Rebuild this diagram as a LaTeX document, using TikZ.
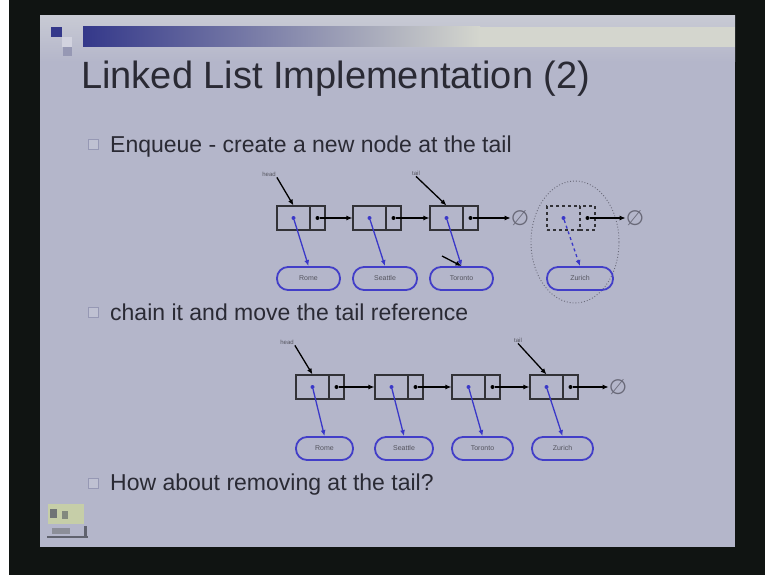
\documentclass[tikz,border=0pt]{standalone}
\usepackage{fontspec}
\setmainfont{Liberation Sans}
\newfontfamily\symfont{DejaVu Sans}
\usetikzlibrary{arrows.meta,shapes.geometric}

\definecolor{frame}{RGB}{16,20,18}
\definecolor{slide}{RGB}{180,182,202}
\definecolor{slidetop}{RGB}{200,202,212}
\definecolor{navy}{RGB}{52,56,138}
\definecolor{bandlight}{RGB}{212,214,206}
\definecolor{txt}{RGB}{42,42,52}
\definecolor{boxc}{RGB}{50,50,55}
\definecolor{refc}{RGB}{58,56,200}
\definecolor{cityc}{RGB}{66,62,200}
\definecolor{smalltxt}{RGB}{85,85,95}
\definecolor{emptyc}{RGB}{105,105,120}
\definecolor{bulletc}{RGB}{150,152,180}
\definecolor{logogreen}{RGB}{198,206,168}
\definecolor{logodark}{RGB}{112,116,118}
\definecolor{logomid}{RGB}{130,136,126}
\definecolor{logogrey}{RGB}{140,142,152}
\definecolor{logoline}{RGB}{96,98,110}

\tikzset{
  elem/.style={draw=boxc, line width=1.1pt, minimum width=33pt, minimum height=24pt, inner sep=0pt},
  nxt/.style={draw=boxc, line width=1.1pt, minimum width=15pt, minimum height=24pt, inner sep=0pt},
  city/.style={draw=cityc, line width=1.8pt, rounded corners=11pt, minimum height=23pt,
    inner sep=0pt, text height=5pt, text depth=1.5pt,
    font=\fontsize{7}{7}\selectfont, text=smalltxt},
  ptr/.style={-{Latex[length=6pt,width=5pt]}, line width=1.3pt, draw=black},
  refptr/.style={-{Latex[length=6pt,width=5pt]}, line width=1.3pt, draw=refc},
  dotk/.style={circle, fill=black, inner sep=0pt, minimum size=4pt},
  dotb/.style={circle, fill=refc, inner sep=0pt, minimum size=4pt},
  lbl/.style={font=\fontsize{6}{6}\selectfont, text=smalltxt, inner sep=1pt},
  nullref/.style={font=\symfont\fontsize{21}{21}\selectfont, text=emptyc, inner sep=0pt},
  bullet/.style={draw=bulletc, fill=slide!85!white, line width=0.8pt, minimum size=10pt, inner sep=0pt},
  btext/.style={anchor=base west, font=\fontsize{23}{23}\selectfont, text=txt, inner sep=0pt},
}

\begin{document}
\begin{tikzpicture}[x=1pt,y=-1pt]
\useasboundingbox (0,0) rectangle (765,575);

% frame and slide
\fill[white] (0,0) rectangle (9,575);
\fill[frame] (9,0) rectangle (765,575);
\fill[slide] (40,16) rectangle (735,547);
\shade[top color=slidetop, bottom color=slide] (40,16) rectangle (735,62);

% header band and corner squares
\shade[left color=navy, right color=bandlight] (83,27) rectangle (480,47);
\fill[bandlight] (480,27) rectangle (735,47);
\fill[navy] (51,27) rectangle (62,37);
\fill[slide!60!white] (62,37) rectangle (72,47);
\fill[bulletc] (63,47) rectangle (72,56);

% title
\node[anchor=base west, inner sep=0pt, text=txt, font=\fontsize{38}{38}\selectfont]
  (title) at (81,89) {Linked List Implementation (2)};

% bullets
\node[bullet] (b1) at (93,144) {};
\node[btext] (t1) at (110,152) {Enqueue - create a new node at the tail};
\node[bullet] (b2) at (93,312) {};
\node[btext] (t2) at (110,320) {chain it and move the tail reference};
\node[bullet] (b3) at (93,483) {};
\node[btext] (t3) at (110,490) {How about removing at the tail?};

% ---------- first list: before linking ----------
\node[elem] (ae1) at (293.5,218) {};
\node[nxt]  (an1) at (317.5,218) {};
\node[elem] (ae2) at (369.5,218) {};
\node[nxt]  (an2) at (393.5,218) {};
\node[elem] (ae3) at (446.5,218) {};
\node[nxt]  (an3) at (470.5,218) {};
\node[nullref] (anull) at (520,218) {∅};

\node[elem, dashed] (ane) at (563.5,218) {};
\node[nxt, dashed]  (ann) at (587.5,218) {};
\node[nullref] (annull) at (635,218) {∅};
\node[ellipse, draw=emptyc, dotted, line width=0.9pt, minimum width=88pt, minimum height=122pt] (grp) at (575,242) {};

\node[city, minimum width=63pt] (ac1) at (308.5,278.5) {Rome};
\node[city, minimum width=64pt] (ac2) at (385,278.5) {Seattle};
\node[city, minimum width=63pt] (ac3) at (461.5,278.5) {Toronto};
\node[city, minimum width=66pt] (ac4) at (580,278.5) {Zurich};

\foreach \i in {1,2,3} {
  \node[dotb] (ad\i) at (ae\i.center) {};
  \node[dotk] (ak\i) at (an\i.center) {};
  \draw[refptr] (ad\i) -- (ac\i.north);
}
\draw[ptr] (ak1) -- (ae2.west);
\draw[ptr] (ak2) -- (ae3.west);
\draw[ptr] (ak3) -- (anull.west);

\node[dotb] (adn) at (ane.center) {};
\node[dotk] (akn) at (ann.center) {};
\draw[refptr, dashed] (adn) -- (ac4.north);
\draw[ptr] (akn) -- (annull.west);

\node[lbl] (ahead) at (269,174) {head};
\node[lbl] (atail) at (416,173) {tail};
\draw[ptr] (ahead.south east) -- (ae1.north);
\draw[ptr] (atail.south) -- (ae3.north);
\coordinate (astub) at (442,256);
\draw[ptr] (astub) -- (ac3.north);

% ---------- second list: after linking ----------
\node[elem] (be1) at (312.5,387) {};
\node[nxt]  (bn1) at (336.5,387) {};
\node[elem] (be2) at (391.5,387) {};
\node[nxt]  (bn2) at (415.5,387) {};
\node[elem] (be3) at (468.5,387) {};
\node[nxt]  (bn3) at (492.5,387) {};
\node[elem] (be4) at (546.5,387) {};
\node[nxt]  (bn4) at (570.5,387) {};
\node[nullref] (bnull) at (618,387) {∅};

\node[city, minimum width=57pt] (bc1) at (324.5,448.5) {Rome};
\node[city, minimum width=58pt] (bc2) at (404,448.5) {Seattle};
\node[city, minimum width=61pt] (bc3) at (482.5,448.5) {Toronto};
\node[city, minimum width=61pt] (bc4) at (562.5,448.5) {Zurich};

\foreach \i in {1,2,3,4} {
  \node[dotb] (bd\i) at (be\i.center) {};
  \node[dotk] (bk\i) at (bn\i.center) {};
  \draw[refptr] (bd\i) -- (bc\i.north);
}
\draw[ptr] (bk1) -- (be2.west);
\draw[ptr] (bk2) -- (be3.west);
\draw[ptr] (bk3) -- (be4.west);
\draw[ptr] (bk4) -- (bnull.west);

\node[lbl] (bhead) at (287,342) {head};
\node[lbl] (btail) at (518,340) {tail};
\draw[ptr] (bhead.south east) -- (be1.north);
\draw[ptr] (btail.south) -- (be4.north);

% ---------- corner logo ----------
\fill[logogreen] (48,504) rectangle (84,524);
\fill[logodark] (50,509) rectangle (57,518);
\fill[logomid] (62,511) rectangle (68,519);
\fill[logogrey] (52,528) rectangle (70,534);
\fill[logoline] (47,536) rectangle (88,538);
\fill[logoline] (84,526) rectangle (87,538);
\end{tikzpicture}
\end{document}
